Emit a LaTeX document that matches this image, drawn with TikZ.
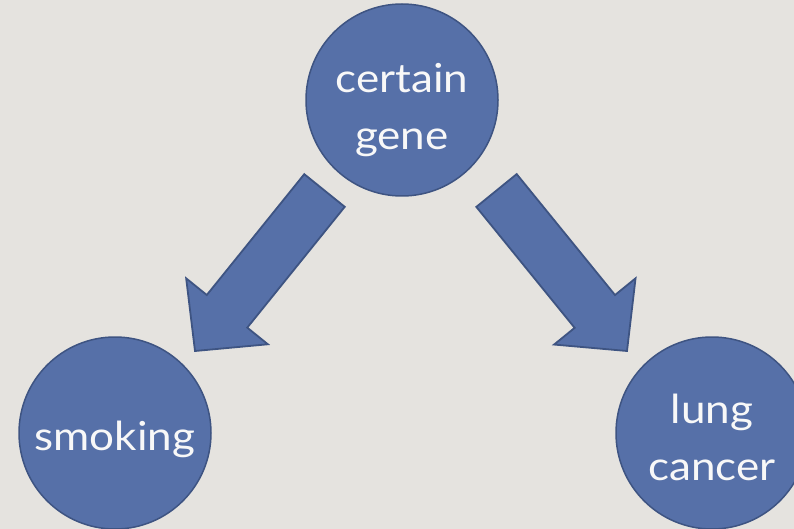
\documentclass[tikz,border=0pt]{standalone}
\usepackage{fontspec}
\setmainfont[FakeStretch=1.1]{Lato}
\usetikzlibrary{calc}
\definecolor{bgcol}{RGB}{229,227,223}
\definecolor{nodefill}{RGB}{86,112,168}
\definecolor{nodeline}{RGB}{62,84,130}
\definecolor{labelcol}{RGB}{248,248,248}
\tikzset{
  causenode/.style={circle, fill=nodefill, draw=nodeline, line width=1.5pt,
    minimum size=192pt, inner sep=0pt},
  causetext/.style={align=center, text=labelcol, inner sep=0pt,
    font=\fontsize{40}{57}\selectfont},
  blockarrow/.style={fill=nodefill, draw=nodeline, line width=1.8pt, line join=miter}
}
% block arrow from #1 to #2: shaft half-width 26, head half-width 52.5, head length 51
\newcommand{\fatarrow}[2]{%
  \coordinate (tmpn) at ($(#2)!51pt!(#1)$);
  \path[blockarrow]
    ($(#1)!26pt!90:(#2)$)
    -- ($(tmpn)!26pt!-90:(#1)$)
    -- ($(tmpn)!52.5pt!-90:(#1)$)
    -- (#2)
    -- ($(tmpn)!52.5pt!90:(#1)$)
    -- ($(tmpn)!26pt!90:(#1)$)
    -- ($(#1)!26pt!-90:(#2)$)
    -- cycle;}
\begin{document}
\begin{tikzpicture}[x=1pt, y=-1pt]
  \fill[bgcol] (0,0) rectangle (794,529);
  \useasboundingbox (0,0) rectangle (794,529);

  \node[causenode] (gene) at (402,100) {};
  \node[causenode] (smoke) at (115,433) {};
  \node[causenode] (cancer) at (712,433) {};

  \node[causetext] (genetext) at ([yshift=-10pt]gene.center) {certain\\gene};
  \node[causetext] (smoketext) at ([yshift=-6pt]smoke.center) {smoking};
  \node[causetext] (cancertext) at ([yshift=-4pt]cancer.center) {lung\\cancer};

  \coordinate (ls) at (324.5,190.5);
  \coordinate (le) at (195,351);
  \coordinate (rs) at (496.5,190.5);
  \coordinate (re) at (627,351);

  \fatarrow{ls}{le}
  \fatarrow{rs}{re}
\end{tikzpicture}
\end{document}
